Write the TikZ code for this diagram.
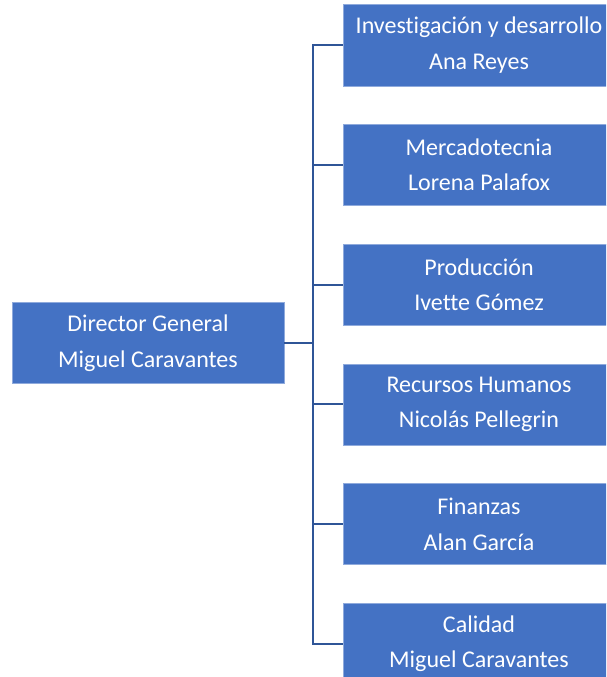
\documentclass[tikz,border=0pt]{standalone}
\usepackage{fontspec}
\setmainfont{Carlito}[Ligatures=NoCommon]
\usetikzlibrary{positioning}
\definecolor{azul}{RGB}{68,114,196}
\definecolor{borde}{RGB}{143,170,220}
\definecolor{linea}{RGB}{47,85,151}

\begin{document}
\begin{tikzpicture}[x=1pt, y=-1pt,
  puesto/.style={rectangle, draw=borde, line width=0.6pt, fill=azul, align=center,
                 minimum width=272pt, minimum height=81pt, inner sep=0pt,
                 text=white, font=\fontsize{24}{35.5}\selectfont},
  conector/.style={draw=linea, line width=2pt}]
\useasboundingbox (0,0) rectangle (606,677);
\clip (0,0) rectangle (606,677);
\node[puesto](dg) at (148,343){Director General\\Miguel Caravantes};
\node[puesto](id) at (479,45.3){Investigación y desarrollo\\Ana Reyes};
\node[puesto, below=38.1pt of id](mk){Mercadotecnia\\Lorena Palafox};
\node[puesto, below=38.1pt of mk](pr){Producción\\Ivette Gómez};
\node[puesto, below=38.1pt of pr](rh){Recursos Humanos\\Nicolás Pellegrin};
\node[puesto, below=38.1pt of rh](fi){Finanzas\\Alan García};
\node[puesto, below=38.1pt of fi](ca){Calidad\\Miguel Caravantes};
\coordinate (bus) at (313,343);
\draw[conector](dg.east)--(bus);
\foreach \n in {id,mk,pr,rh,fi,ca}
  \draw[conector](\n.west)-|(bus);
\end{tikzpicture}
\end{document}
